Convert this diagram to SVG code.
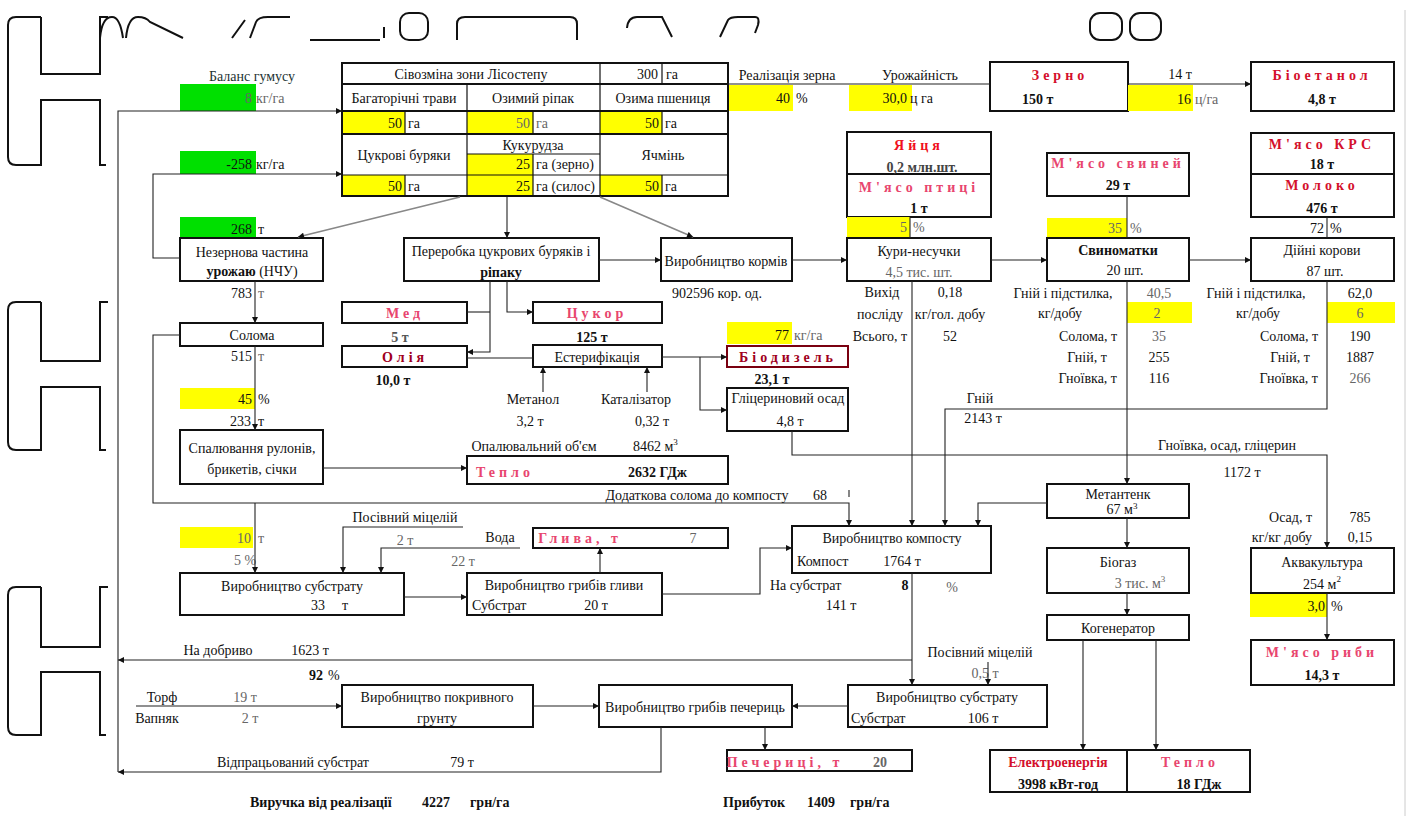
<svg xmlns="http://www.w3.org/2000/svg" width="1407" height="816" viewBox="0 0 1407 816">
<defs>
<marker id="ar" viewBox="0 0 10 10" refX="10" refY="5" markerWidth="8" markerHeight="6" markerUnits="userSpaceOnUse" orient="auto"><path d="M0,0 L10,5 L0,10 z" fill="#111"/></marker>
</defs>
<style>
text{font-family:"Liberation Serif","DejaVu Serif","Times New Roman",serif;font-size:14px;fill:#111}
.m{text-anchor:middle}.e{text-anchor:end}
.b{font-weight:bold}
.r{fill:#d4102c;font-weight:bold;letter-spacing:4px}
.p{fill:#e8456e;font-weight:bold;letter-spacing:4px}
.dr{fill:#a0001c;font-weight:bold;letter-spacing:4px}
.ns{letter-spacing:0}
.f{fill:#666}
.bx{fill:none;stroke:#111;stroke-width:2}
.ln{stroke:#111;stroke-width:1.2;fill:none}
.ln2{stroke:#111;stroke-width:2;fill:none}
.y{fill:#ffff00}
.g{fill:#00e000}
.dec{fill:none;stroke:#111;stroke-width:2}
.cn path{stroke:#222;stroke-width:1.1;fill:none}
.cn path.gr{stroke:#888;stroke-width:1.6}
.sup{font-size:9px}
</style>

<g id="decor">
<path class="dec" d="M41,17 H16 Q8,17 8,25 V157 Q8,165 16,165 H41 V100 H100 V165 H106 M41,17 V74 H100 V17 H108"/>
<path class="dec" d="M41,302 H16 Q8,302 8,310 V442 Q8,450 16,450 H41 V387 H100 V450 H106 M41,302 V361 H100 V302 H108"/>
<path class="dec" d="M41,587 H16 Q8,587 8,595 V727 Q8,735 16,735 H41 V672 H100 V735 H106 M41,587 V647 H100 V587 H108"/>
<path class="dec" d="M100,38 Q102,17 112,17 Q120,17 123,38 M126,38 Q128,17 138,17 Q146,17 150,22 L183,38"/>
<path class="dec" d="M232,38 L245,20 M250,38 L256,22 Q258,17 268,17 H290 M310,40 H380 M384,27 V38"/>
<rect class="dec" x="400" y="13" width="28" height="27" rx="9"/>
<path class="dec" d="M457,40 V24 Q457,17 465,17 H570 Q577,17 577,24 V40"/>
<path class="dec" d="M627,28 Q628,17 637,17 H662 L672,37"/>
<path class="dec" d="M720,37 L728,20 Q730,17 738,17 H755 Q760,17 758,25 L755,33"/>
<rect class="dec" x="1090" y="13" width="32" height="27" rx="10"/>
<rect class="dec" x="1130" y="13" width="31" height="27" rx="10"/>
<path d="M1405,10 V816" stroke="#ccc" stroke-width="1"/>
</g>

<g id="humus">
<text class="m" x="252" y="81" style="fill:#233">Баланс гумусу</text>
<rect class="g" x="180" y="84" width="76" height="27"/>
<text class="e f" x="252" y="103">8</text><text x="256" y="103" class="f">кг/га</text>
<rect class="g" x="180" y="151" width="76" height="23"/>
<text class="e" x="252" y="169">-258</text><text x="256" y="169">кг/га</text>
<rect class="g" x="180" y="217" width="76" height="21"/>
<text class="e" x="252" y="234">268</text><text x="258" y="234">т</text>
</g>

<g id="sivozmina">
<rect class="y" x="342" y="111" width="63" height="23"/>
<rect class="y" x="467" y="111" width="66" height="23"/>
<rect class="y" x="600" y="111" width="62" height="23"/>
<rect class="y" x="342" y="175" width="63" height="21"/>
<rect class="y" x="467" y="154" width="66" height="42"/>
<rect class="y" x="600" y="175" width="62" height="21"/>
<rect class="bx" x="342" y="63" width="386" height="133"/>
<path class="ln2" d="M342,84 H728 M342,111 H728 M342,134 H728"/>
<path class="ln" d="M342,175 H728 M467,154 H600 M600,63 V196 M662,63 V84 M467,84 V196 M405,111 V134 M405,175 V196 M533,111 V134 M533,154 V196 M662,111 V134 M662,175 V196"/>
<text class="m" x="471" y="79">Сівозміна зони Лісостепу</text>
<text class="e" x="658" y="79">300</text><text x="666" y="79">га</text>
<text class="m" x="404" y="103">Багаторічні трави</text>
<text class="m" x="533" y="103">Озимий ріпак</text>
<text class="m" x="663" y="103">Озима пшениця</text>
<text class="e" x="402" y="128">50</text><text x="408" y="128">га</text>
<text class="e f" x="530" y="128">50</text><text x="536" y="128" class="f">га</text>
<text class="e" x="659" y="128">50</text><text x="665" y="128">га</text>
<text class="m" x="404" y="160">Цукрові буряки</text>
<text class="m" x="533" y="150">Кукурудза</text>
<text class="e" x="530" y="169">25</text><text x="536" y="169">га (зерно)</text>
<text class="m" x="663" y="160">Ячмінь</text>
<text class="e" x="402" y="191">50</text><text x="408" y="191">га</text>
<text class="e" x="530" y="191">25</text><text x="536" y="191">га (силос)</text>
<text class="e" x="659" y="191">50</text><text x="665" y="191">га</text>
</g>

<g id="realizatsiia">
<text class="m" x="787" y="80">Реалізація зерна</text>
<rect class="y" x="729" y="85" width="64" height="26"/>
<text class="e" x="790" y="103">40</text><text x="796" y="103">%</text>
<text class="m" x="920" y="80">Урожайність</text>
<rect class="y" x="849" y="85" width="63" height="26"/>
<text class="e" x="907" y="103">30,0</text><text x="910" y="103">ц га</text>
</g>

<g id="zerno">
<rect class="bx" x="990" y="62" width="138" height="49"/>
<text class="r m" x="1060" y="80">Зерно</text>
<text class="b" x="1022" y="104">150 т</text>
</g>

<g id="zerno-bioetanol-label">
<text class="m" x="1180" y="79">14 т</text>
<rect class="y" x="1128" y="85" width="65" height="26"/>
<text class="e" x="1191" y="104">16</text><text x="1195" y="104" class="f">ц/га</text>
</g>

<g id="bioetanol">
<rect class="bx" x="1251" y="62" width="143" height="49"/>
<text class="r m" x="1322" y="80">Біоетанол</text>
<text class="b m" x="1322" y="104">4,8 т</text>
</g>

<g id="yaitsia">
<rect class="bx" x="847" y="132" width="144" height="85"/>
<path class="ln2" d="M847,174 H991"/>
<text class="r m" x="919" y="150" style="fill:#f01020">Яйця</text>
<text class="b m" x="922" y="172" style="fill:#444">0,2 млн.шт.</text>
<text class="p m" x="919" y="192">М'ясо птиці</text>
<text class="b m" x="919" y="213">1 т</text>
<rect class="y" x="847" y="217" width="63" height="20"/>
<text class="e f" x="907" y="232">5</text><text x="913" y="232" class="f">%</text>
</g>

<g id="kury">
<rect class="bx" x="847" y="238" width="144" height="43"/>
<text class="m" x="919" y="256">Кури-несучки</text>
<text class="m f" x="919" y="277">4,5 тис. шт.</text>
<text class="m" x="882" y="297">Вихід</text>
<text class="m" x="950" y="297">0,18</text>
<text class="m" x="880" y="319">посліду</text>
<text class="m" x="950" y="319">кг/гол. добу</text>
<text class="m" x="880" y="341">Всього, т</text>
<text class="m" x="950" y="341">52</text>
</g>

<g id="miaso-svynei">
<rect class="bx" x="1047" y="153" width="142" height="43"/>
<text class="p m" x="1118" y="168">М'ясо свиней</text>
<text class="b m" x="1118" y="190">29 т</text>
<rect class="y" x="1047" y="218" width="80" height="19"/>
<text class="e f" x="1122" y="233">35</text><text x="1130" y="233" class="f">%</text>
</g>

<g id="svynomatky">
<rect class="bx" x="1047" y="238" width="142" height="43"/>
<text class="b m" x="1118" y="255">Свиноматки</text>
<text class="m" x="1125" y="275">20 шт.</text>
<text class="m" x="1063" y="298">Гній і підстилка,</text>
<text class="m f" x="1159" y="298">40,5</text>
<text class="m" x="1060" y="318">кг/добу</text>
<rect class="y" x="1127" y="302" width="65" height="21"/>
<text class="m f" x="1157" y="318">2</text>
<text class="e" x="1117" y="341">Солома, т</text><text class="m f" x="1159" y="341">35</text>
<text class="m" x="1087" y="362">Гній, т</text><text class="m" x="1159" y="362">255</text>
<text class="e" x="1117" y="383">Гноївка, т</text><text class="m" x="1159" y="383">116</text>
</g>

<g id="miaso-krs">
<rect class="bx" x="1251" y="133" width="143" height="84"/>
<path class="ln2" d="M1251,174 H1394"/>
<text class="r m" x="1322" y="149">М'ясо КРС</text>
<text class="b m" x="1322" y="169">18 т</text>
<text class="r m" x="1322" y="190">Молоко</text>
<text class="b m" x="1322" y="213">476 т</text>
<text class="e" x="1324" y="233">72</text><text x="1330" y="233">%</text>
</g>

<g id="koryvy">
<rect class="bx" x="1251" y="238" width="143" height="43"/>
<text class="m" x="1322" y="255">Дійні корови</text>
<text class="m" x="1325" y="276">87 шт.</text>
<text class="m" x="1256" y="298">Гній і підстилка,</text>
<text class="m" x="1360" y="298">62,0</text>
<text class="m" x="1258" y="318">кг/добу</text>
<rect class="y" x="1327" y="302" width="68" height="21"/>
<text class="m f" x="1360" y="318">6</text>
<text class="e" x="1318" y="341">Солома, т</text><text class="m" x="1360" y="341">190</text>
<text class="m" x="1290" y="362">Гній, т</text><text class="m" x="1360" y="362">1887</text>
<text class="e" x="1318" y="383">Гноївка, т</text><text class="m f" x="1360" y="383">266</text>
</g>

<g id="nchu">
<rect class="bx" x="180" y="238" width="143" height="43"/>
<text class="m" x="252" y="257">Незернова частина</text>
<text class="m" x="252" y="276"><tspan class="b">урожаю</tspan> (НЧУ)</text>
<text class="e" x="252" y="298">783</text><text x="258" y="298" class="f">т</text>
</g>

<g id="pererobka">
<rect class="bx" x="404" y="238" width="195" height="43"/>
<text class="m" x="501" y="256">Переробка цукрових буряків і</text>
<text class="b m" x="501" y="277">ріпаку</text>
</g>

<g id="kormy">
<rect class="bx" x="661" y="238" width="131" height="43"/>
<text class="m" x="726" y="266">Виробництво кормів</text>
<text class="m" x="717" y="298">902596 кор. од.</text>
</g>

<g id="soloma">
<rect class="bx" x="180" y="323" width="143" height="23"/>
<text class="m" x="252" y="340">Солома</text>
<text class="e" x="252" y="361">515</text><text x="258" y="361" class="f">т</text>
<rect class="y" x="180" y="388" width="75" height="21"/>
<text class="e" x="252" y="404">45</text><text x="258" y="404">%</text>
<text class="e" x="251" y="426">233</text><text x="258" y="426">т</text>
</g>

<g id="spaliuvannia">
<rect class="bx" x="180" y="430" width="143" height="54"/>
<text class="m" x="252" y="453">Спалювання рулонів,</text>
<text class="m" x="252" y="474">брикетів, січки</text>
</g>

<g id="med">
<rect class="bx" x="342" y="302" width="125" height="21"/>
<text class="p m" x="405" y="318">Мед</text>
<text class="b m" x="400" y="342" style="fill:#555">5 т</text>
</g>

<g id="oliia">
<rect class="bx" x="342" y="346" width="125" height="21"/>
<text class="dr m" x="405" y="362">Олія</text>
<text class="b m" x="393" y="385">10,0 т</text>
</g>

<g id="tsukor">
<rect class="bx" x="533" y="302" width="129" height="21"/>
<text class="p m" x="597" y="318">Цукор</text>
<text class="b m" x="592" y="342">125 т</text>
</g>

<g id="esteryfikatsiia">
<rect class="bx" x="533" y="345" width="129" height="22"/>
<text class="m" x="597" y="362">Естерифікація</text>
<text class="m" x="533" y="404">Метанол</text>
<text class="m" x="530" y="426">3,2 т</text>
<text class="m" x="636" y="404">Каталізатор</text>
<text class="m" x="652" y="426">0,32 т</text>
</g>

<g id="biodyzel">
<rect class="y" x="727" y="322" width="65" height="22"/>
<text class="e" x="789" y="340">77</text><text x="794" y="340" class="f">кг/га</text>
<rect x="727" y="346" width="121" height="21" fill="none" stroke="#7a0010" stroke-width="2"/>
<text class="dr m" x="788" y="362">Біодизель</text>
<text class="b m" x="772" y="384">23,1 т</text>
</g>

<g id="glitseryn">
<rect class="bx" x="727" y="388" width="121" height="43"/>
<text class="m" x="788" y="403">Гліцериновий осад</text>
<text class="m" x="790" y="426">4,8 т</text>
</g>

<g id="teplo">
<text class="m" x="534" y="451">Опалювальний об'єм</text>
<text x="633" y="451">8462 м<tspan class="sup" dy="-6">3</tspan></text>
<rect class="bx" x="467" y="456" width="261" height="28"/>
<text class="p m" x="505" y="477">Тепло</text>
<text class="b" x="628" y="477">2632  ГДж</text>
</g>

<g id="dod-soloma">
<text class="m" x="697" y="500">Додаткова солома до компосту</text>
<text class="m" x="820" y="500">68</text>
</g>

<g id="kompost">
<rect class="bx" x="792" y="526" width="199" height="47"/>
<text class="m" x="892" y="543">Виробництво компосту</text>
<text x="797" y="566">Компост</text>
<text class="m" x="902" y="566">1764 т</text>
<text x="770" y="590">На субстрат</text>
<text class="b m" x="905" y="590">8</text>
<text class="m f" x="952" y="592">%</text>
<text class="m" x="841" y="610">141 т</text>
</g>

<g id="metantenk">
<rect class="bx" x="1047" y="484" width="142" height="34"/>
<text class="m" x="1118" y="499">Метантенк</text>
<text class="m" x="1122" y="514">67 м<tspan class="sup" dy="-5">3</tspan></text>
</g>

<g id="gnii-labels">
<text class="m" x="980" y="403">Гній</text>
<text class="m" x="983" y="423">2143 т</text>
<text class="m" x="1227" y="450">Гноївка, осад, гліцерин</text>
<text class="m" x="1242" y="477">1172 т</text>
<text class="e" x="1312" y="522">Осад, т</text><text class="m" x="1360" y="522">785</text>
<text class="e" x="1312" y="542">кг/кг добу</text><text class="m" x="1360" y="542">0,15</text>
</g>

<g id="biogaz">
<rect class="bx" x="1047" y="548" width="142" height="45"/>
<text class="m" x="1118" y="567">Біогаз</text>
<text class="m f" x="1140" y="588">3 тис. м<tspan class="sup" dy="-6">3</tspan></text>
</g>

<g id="kogenerator">
<rect class="bx" x="1047" y="615" width="142" height="25"/>
<text class="m" x="1118" y="633">Когенератор</text>
</g>

<g id="akvakultura">
<rect class="bx" x="1251" y="548" width="143" height="45"/>
<text class="m" x="1322" y="567">Аквакультура</text>
<text class="m" x="1322" y="589">254 м<tspan class="sup" dy="-7">2</tspan></text>
<rect class="y" x="1250" y="594" width="77" height="23"/>
<text class="e" x="1325" y="611">3,0</text><text x="1331" y="611">%</text>
</g>

<g id="miaso-ryby">
<rect class="bx" x="1251" y="640" width="143" height="45"/>
<text class="p m" x="1322" y="657">М'ясо риби</text>
<text class="b m" x="1322" y="680">14,3 т</text>
</g>

<g id="energiia">
<rect class="bx" x="990" y="750" width="260" height="42"/>
<path class="ln2" d="M1127,750 V792"/>
<text class="m" x="1058" y="767" style="fill:#d4102c;font-weight:bold">Електроенергія</text>
<text class="b m" x="1058" y="789">3998 кВт-год</text>
<text class="p m" x="1190" y="767">Тепло</text>
<text class="b m" x="1199" y="789">18  ГДж</text>
</g>

<g id="substrat1">
<text class="m" x="405" y="522">Посівний міцелій</text>
<text class="m f" x="405" y="545">2 т</text>
<text class="m" x="500" y="542">Вода</text>
<text class="m f" x="463" y="566">22 т</text>
<rect class="y" x="180" y="527" width="73" height="21"/>
<text class="e f" x="251" y="543">10</text><text x="258" y="543" class="f">т</text>
<text class="m f" x="245" y="565">5 %</text>
<rect class="bx" x="180" y="573" width="224" height="42"/>
<text class="m" x="292" y="591">Виробництво субстрату</text>
<text class="m" x="318" y="610">33</text><text class="m" x="345" y="610">т</text>
</g>

<g id="glyva-vyr">
<rect class="bx" x="467" y="573" width="195" height="42"/>
<text class="m" x="564" y="590">Виробництво грибів гливи</text>
<text x="472" y="610">Субстрат</text>
<text class="m" x="596" y="610">20 т</text>
</g>

<g id="glyva">
<rect class="bx" x="533" y="528" width="195" height="20"/>
<text class="p m" x="580" y="543">Глива, т</text>
<text class="m f" x="693" y="543">7</text>
</g>

<g id="dobryvo">
<text class="m" x="218" y="655">На добриво</text>
<text class="m" x="310" y="655">1623 т</text>
<text class="b m" x="316" y="680">92</text><text x="328" y="680">%</text>
</g>

<g id="pokryvnyi">
<text class="m" x="162" y="702">Торф</text>
<text class="m f" x="245" y="702">19 т</text>
<text class="m" x="157" y="723">Вапняк</text>
<text class="m f" x="250" y="723">2 т</text>
<rect class="bx" x="342" y="685" width="191" height="42"/>
<text class="m" x="437" y="702">Виробництво покривного</text>
<text class="m" x="437" y="723">грунту</text>
</g>

<g id="pecheryts-vyr">
<rect class="bx" x="599" y="685" width="193" height="42"/>
<text class="m" x="695" y="712">Виробництво грибів печериць</text>
</g>

<g id="substrat2">
<text class="m" x="980" y="657">Посівний міцелій</text>
<text class="m f" x="985" y="678">0,5 т</text>
<rect class="bx" x="848" y="685" width="199" height="42"/>
<text class="m" x="947" y="702">Виробництво субстрату</text>
<text x="851" y="723">Субстрат</text>
<text class="m" x="983" y="723">106 т</text>
</g>

<g id="pecheryts">
<rect class="bx" x="727" y="750" width="185" height="21"/>
<text class="p m" x="785" y="767">Печериці, т</text>
<text class="b m f" x="880" y="767">20</text>
</g>

<g id="vidprats">
<text class="m" x="293" y="767">Відпрацьований субстрат</text>
<text class="m" x="462" y="767">79 т</text>
</g>

<g id="pidsumky">
<text class="b" x="250" y="807">Виручка від реалізації</text>
<text class="b" x="422" y="807">4227</text>
<text class="b" x="470" y="807">грн/га</text>
<text class="b" x="723" y="807">Прибуток</text>
<text class="b" x="807" y="807">1409</text>
<text class="b" x="850" y="807">грн/га</text>
</g>

<g id="connectors" class="cn">
<path d="M118,772 V111 H342" marker-end="url(#ar)"/>
<path d="M180,258 H153 V174 H342" marker-end="url(#ar)"/>
<path class="gr" d="M460,197 L298,237" marker-end="url(#ar)"/>
<path d="M507,197 V238" marker-end="url(#ar)"/>
<path class="gr" d="M600,197 L693,237" marker-end="url(#ar)"/>
<path d="M599,260 H661" marker-end="url(#ar)"/>
<path d="M792,260 H847" marker-end="url(#ar)"/>
<path d="M991,260 H1047" marker-end="url(#ar)"/>
<path d="M1189,260 H1251" marker-end="url(#ar)"/>
<path d="M728,84 H990"/>
<path d="M1128,84 H1251" marker-end="url(#ar)"/>
<path d="M910,217 V238"/>
<path d="M1127,196 V238"/>
<path d="M1327,217 V238"/>
<path d="M255,281 V323" marker-end="url(#ar)"/>
<path d="M180,335 H153 V503 H849 V526" marker-end="url(#ar)"/>
<path d="M849,490 V497"/>
<path d="M255,346 V430" marker-end="url(#ar)"/>
<path d="M255,503 V573" marker-end="url(#ar)"/>
<path d="M323,468 H467" marker-end="url(#ar)"/>
<path d="M507,281 V312 H533" marker-end="url(#ar)"/>
<path d="M490,281 V352 H467" marker-end="url(#ar)"/>
<path d="M467,312 H490"/>
<path d="M467,358 H533"/>
<path d="M543,392 V367" marker-end="url(#ar)"/>
<path d="M647,392 V367" marker-end="url(#ar)"/>
<path d="M662,357 H727" marker-end="url(#ar)"/>
<path d="M700,357 V410 H727" marker-end="url(#ar)"/>
<path d="M792,431 V455 H1327 V548" marker-end="url(#ar)"/>
<path d="M912,281 V526" marker-end="url(#ar)"/>
<path d="M1127,281 V484" marker-end="url(#ar)"/>
<path d="M1327,281 V409 H945 V526" marker-end="url(#ar)"/>
<path d="M1047,503 H978 V526" marker-end="url(#ar)"/>
<path d="M1127,518 V548" marker-end="url(#ar)"/>
<path d="M1127,593 V615" marker-end="url(#ar)"/>
<path d="M1083,640 V750" marker-end="url(#ar)"/>
<path d="M1156,640 V750" marker-end="url(#ar)"/>
<path d="M1327,593 V640" marker-end="url(#ar)"/>
<path d="M463,527 H343 V573" marker-end="url(#ar)"/>
<path d="M520,548 H381 V573" marker-end="url(#ar)"/>
<path d="M404,597 H467" marker-end="url(#ar)"/>
<path d="M600,573 V548" marker-end="url(#ar)"/>
<path d="M662,594 H760 V548 H792" marker-end="url(#ar)"/>
<path d="M912,573 V685" marker-end="url(#ar)"/>
<path d="M912,660 H118" marker-end="url(#ar)"/>
<path d="M988,662 V685" marker-end="url(#ar)"/>
<path d="M848,706 H792" marker-end="url(#ar)"/>
<path d="M533,706 H599" marker-end="url(#ar)"/>
<path d="M136,706 H342" marker-end="url(#ar)"/>
<path d="M765,727 V750" marker-end="url(#ar)"/>
<path d="M661,727 V772 H118" marker-end="url(#ar)"/>
</g>
</svg>
